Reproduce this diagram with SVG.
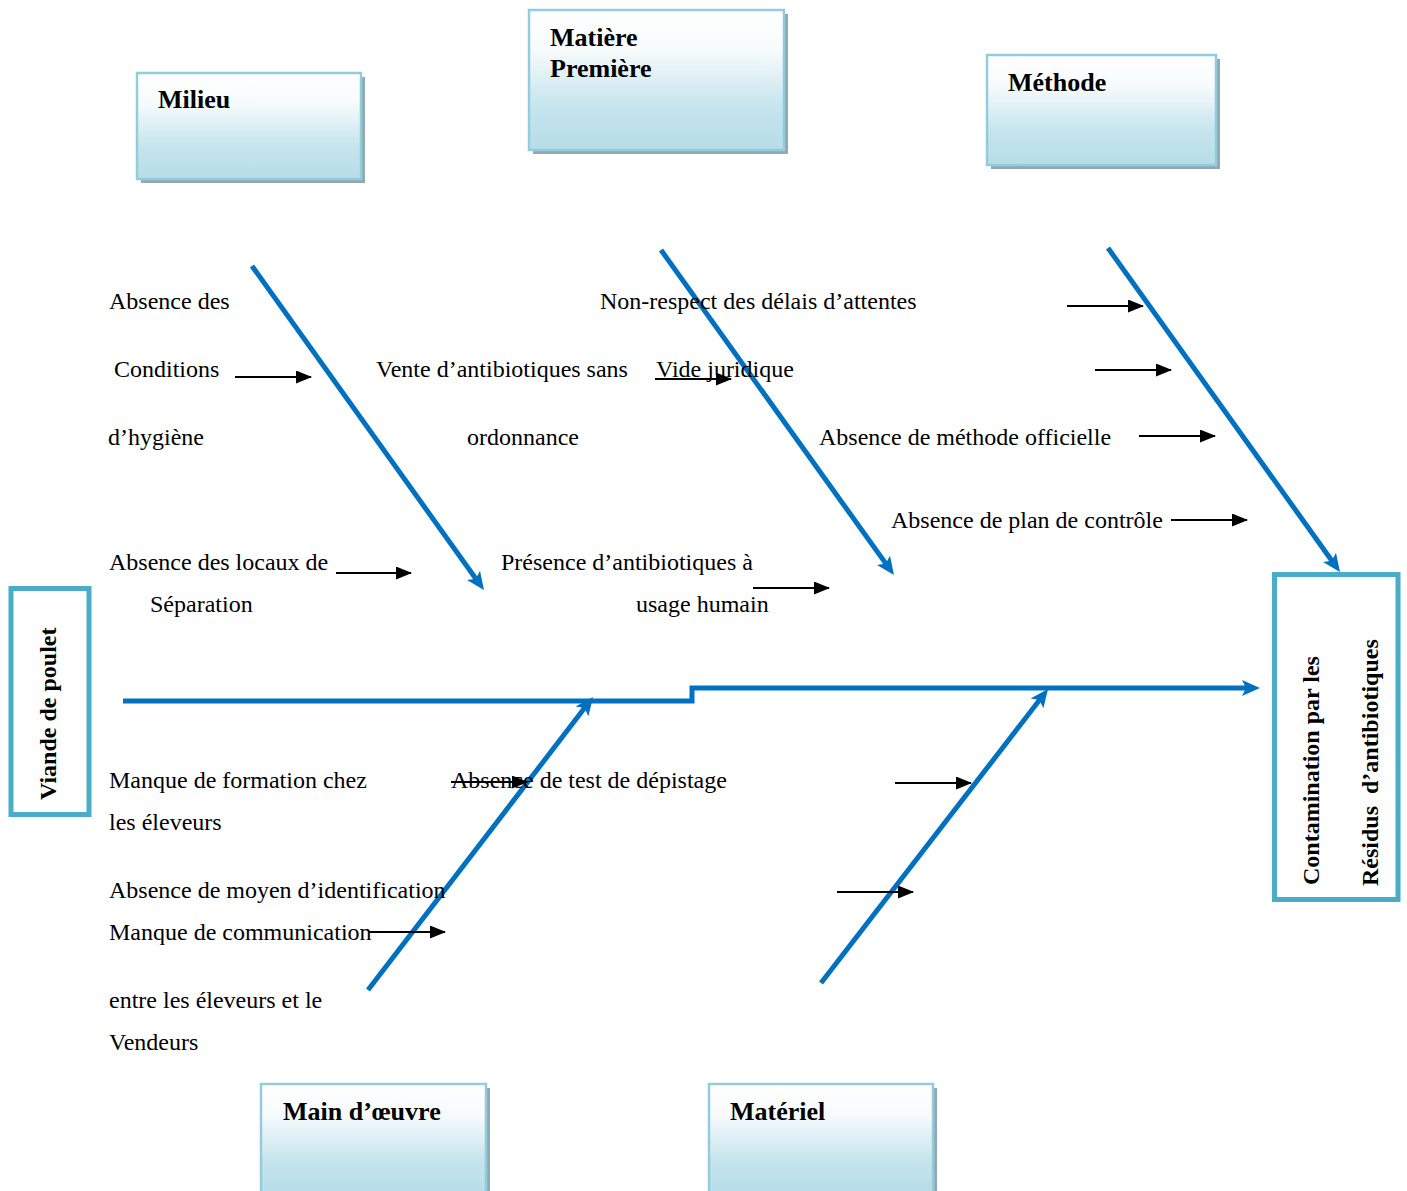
<svg xmlns="http://www.w3.org/2000/svg" width="1407" height="1191" viewBox="0 0 1407 1191">
<style>
.box{fill:url(#g);stroke:#93cddd;stroke-width:2.5}
.shadow{fill:#8faab3}
.title{font-family:"Liberation Serif","Times New Roman",serif;font-weight:bold;font-size:26px;fill:#000}
.vt{font-family:"Liberation Serif","Times New Roman",serif;font-weight:bold;font-size:24px;fill:#000}
.t{font-family:"Liberation Serif","Times New Roman",serif;font-size:24px;fill:#000}
.frame{fill:#fff;stroke:#4bacc6;stroke-width:5}
.bone{fill:none;stroke:#0070c0;stroke-width:5;marker-end:url(#ba)}
.arr{fill:none;stroke:#000;stroke-width:2;marker-end:url(#ka)}
</style>
<defs>
<linearGradient id="g" x1="0" y1="0" x2="0" y2="1">
<stop offset="0" stop-color="#ffffff"/>
<stop offset="0.28" stop-color="#f7fbfc"/>
<stop offset="0.7" stop-color="#c5e4ed"/>
<stop offset="1" stop-color="#b7dde8"/>
</linearGradient>
<marker id="ba" markerUnits="userSpaceOnUse" markerWidth="20" markerHeight="18" refX="5" refY="8" orient="auto">
<path d="M0,0 L18,8 L0,16 L4,8 z" fill="#0070c0"/>
</marker>
<marker id="ka" markerUnits="userSpaceOnUse" markerWidth="18" markerHeight="15" refX="15" refY="6.5" orient="auto">
<path d="M0,0 L16,6.5 L0,13 z" fill="#000"/>
</marker>
</defs>
<rect width="1407" height="1191" fill="#fff"/>

<g id="milieu">
<rect class="shadow" x="141" y="77" width="224" height="106"/>
<rect class="box" x="137" y="73" width="224" height="106"/>
<text class="title" x="158" y="108">Milieu</text>
</g>
<g id="matiere">
<rect class="shadow" x="533" y="14" width="255" height="140"/>
<rect class="box" x="529" y="10" width="255" height="140"/>
<text class="title" x="550" y="46">Matière</text>
<text class="title" x="550" y="77">Première</text>
</g>
<g id="methode">
<rect class="shadow" x="991" y="59" width="229" height="110"/>
<rect class="box" x="987" y="55" width="229" height="110"/>
<text class="title" x="1008" y="91">Méthode</text>
</g>
<g id="main-oeuvre">
<rect class="shadow" x="265" y="1088" width="225" height="110"/>
<rect class="box" x="261" y="1084" width="225" height="110"/>
<text class="title" x="283" y="1120">Main d’œuvre</text>
</g>
<g id="materiel">
<rect class="shadow" x="713" y="1088" width="224" height="110"/>
<rect class="box" x="709" y="1084" width="224" height="110"/>
<text class="title" x="730" y="1120">Matériel</text>
</g>
<g id="viande">
<rect class="frame" x="11" y="588.5" width="78" height="226"/>
<text class="vt" transform="translate(56,800) rotate(-90)">Viande de poulet</text>
</g>
<g id="contamination">
<rect class="frame" x="1274.5" y="574.5" width="123.5" height="325"/>
<text class="vt" transform="translate(1319,885) rotate(-90)">Contamination par les</text>
<text class="vt" transform="translate(1378,886) rotate(-90)" xml:space="preserve">Résidus  d’antibiotiques</text>
</g>

<g id="connectors">
<polyline class="bone" points="123,701 692,701 692,688 1247,688"/>
<line class="bone" x1="252" y1="266" x2="476.4" y2="579.5"/>
<line class="bone" x1="661" y1="250" x2="886.4" y2="564.4"/>
<line class="bone" x1="1108" y1="248" x2="1332.4" y2="561.5"/>
<line class="bone" x1="368" y1="990" x2="585.1" y2="707.3"/>
<line class="bone" x1="821" y1="983" x2="1040.1" y2="699.3"/>

<line class="arr" x1="235" y1="377" x2="311" y2="377"/>
<line class="arr" x1="336" y1="573" x2="411" y2="573"/>
<line class="arr" x1="655" y1="379" x2="731" y2="379"/>
<line class="arr" x1="753" y1="588" x2="829" y2="588"/>
<line class="arr" x1="1067" y1="306" x2="1143" y2="306"/>
<line class="arr" x1="1095" y1="370" x2="1171" y2="370"/>
<line class="arr" x1="1139" y1="436" x2="1215" y2="436"/>
<line class="arr" x1="1171" y1="520" x2="1247" y2="520"/>
<line class="arr" x1="451" y1="782" x2="527" y2="782"/>
<line class="arr" x1="895" y1="783" x2="971" y2="783"/>
<line class="arr" x1="837" y1="892" x2="913" y2="892"/>
<line class="arr" x1="368" y1="932" x2="445" y2="932"/>
</g>

<g id="labels">
<text class="t" x="109" y="309">Absence des</text>
<text class="t" x="114" y="377">Conditions</text>
<text class="t" x="108" y="445">d’hygiène</text>
<text class="t" x="376" y="377">Vente d’antibiotiques sans</text>
<text class="t" x="467" y="445">ordonnance</text>
<text class="t" x="600" y="309">Non-respect des délais d’attentes</text>
<text class="t" x="656" y="377">Vide juridique</text>
<text class="t" x="819" y="445">Absence de méthode officielle</text>
<text class="t" x="891" y="528">Absence de plan de contrôle</text>
<text class="t" x="109" y="570">Absence des locaux de</text>
<text class="t" x="150" y="612">Séparation</text>
<text class="t" x="501" y="570">Présence d’antibiotiques à</text>
<text class="t" x="636" y="612">usage humain</text>
<text class="t" x="109" y="788">Manque de formation chez</text>
<text class="t" x="109" y="830">les éleveurs</text>
<text class="t" x="451" y="788">Absence de test de dépistage</text>
<text class="t" x="109" y="898">Absence de moyen d’identification</text>
<text class="t" x="109" y="940">Manque de communication</text>
<text class="t" x="109" y="1008">entre les éleveurs et le</text>
<text class="t" x="109" y="1050">Vendeurs</text>
</g>
</svg>
